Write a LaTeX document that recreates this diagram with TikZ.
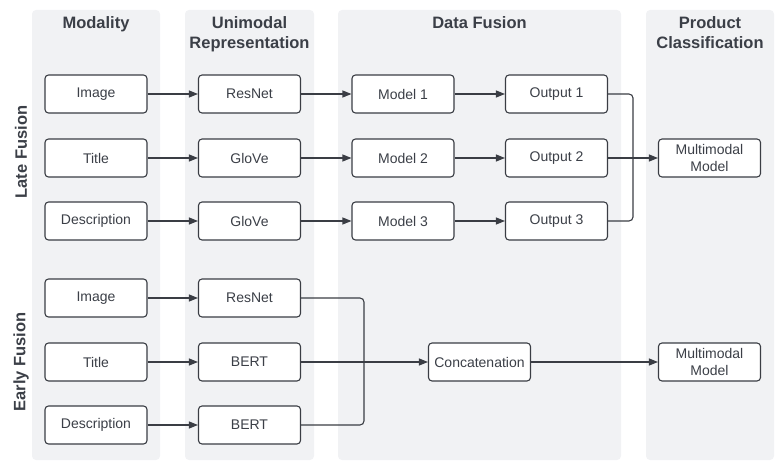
\documentclass[tikz,border=0pt]{standalone}
\usepackage{fontspec}
\setmainfont{Liberation Sans}
\usetikzlibrary{arrows.meta}
\definecolor{txt}{HTML}{3B3F47}
\definecolor{lane}{HTML}{F1F2F4}
\definecolor{ln}{HTML}{3A3D44}
\tikzset{
  lanebox/.style={fill=lane, draw=none, rounded corners=4pt},
  hdr/.style={font=\fontsize{16.5}{20}\selectfont\bfseries, text=txt, align=center, anchor=north},
  box/.style={draw=ln, line width=1.1pt, rounded corners=3.5pt, fill=white, minimum width=102pt, minimum height=38pt, inner sep=0pt, font=\fontsize{14}{16.5}\selectfont, text=txt, align=center},
  conn/.style={draw=ln, line width=1.1pt, -{Triangle[length=9pt,width=7pt]}},
  merge/.style={draw=ln, line width=1.1pt, rounded corners=4pt},
  side/.style={font=\fontsize{16.5}{20}\selectfont\bfseries, text=txt, rotate=90}
}
\begin{document}
\begin{tikzpicture}[x=1pt,y=-1pt]
\useasboundingbox (0,0) rectangle (784,462);
% lanes
\fill[lanebox] (32,10) rectangle (160,460);
\fill[lanebox] (185,10) rectangle (314,460);
\fill[lanebox] (338,10) rectangle (621,460);
\fill[lanebox] (646,10) rectangle (774,460);
% headers
\node[hdr] (h1) at (96,13.5) {Modality};
\node[hdr] (h2) at (249.5,13.5) {Unimodal\\Representation};
\node[hdr] (h3) at (479.5,13.5) {Data Fusion};
\node[hdr] (h4) at (710,13.5) {Product\\Classification};
% side labels
\node[side] (lf) at (21,152) {Late Fusion};
\node[side] (ef) at (21,362) {Early Fusion};
% late fusion
\node[box] (li) at (96,94) {Image};
\node[box] (lt) at (96,158) {Title};
\node[box] (ld) at (96,221) {Description};
\node[box] (lr) at (249.5,94) {ResNet};
\node[box] (lg1) at (249.5,158) {GloVe};
\node[box] (lg2) at (249.5,221) {GloVe};
\node[box] (m1) at (403,94) {Model 1};
\node[box] (m2) at (403,158) {Model 2};
\node[box] (m3) at (403,221) {Model 3};
\node[box] (o1) at (556.5,94) {Output 1};
\node[box] (o2) at (556.5,158) {Output 2};
\node[box] (o3) at (556.5,221) {Output 3};
\node[box] (mm1) at (709.5,158) {Multimodal\\Model};
\draw[conn] (li) -- (lr);
\draw[conn] (lt) -- (lg1);
\draw[conn] (ld) -- (lg2);
\draw[conn] (lr) -- (m1);
\draw[conn] (lg1) -- (m2);
\draw[conn] (lg2) -- (m3);
\draw[conn] (m1) -- (o1);
\draw[conn] (m2) -- (o2);
\draw[conn] (m3) -- (o3);
\coordinate (lm) at (633,158);
\draw[merge] (o1.east) -| (lm) |- (o3.east);
\draw[conn] (o2.east) -- (mm1.west);
% early fusion
\node[box] (ei) at (96,298) {Image};
\node[box] (et) at (96,362) {Title};
\node[box] (ed) at (96,425) {Description};
\node[box] (er) at (249.5,298) {ResNet};
\node[box] (eb1) at (249.5,362) {BERT};
\node[box] (eb2) at (249.5,425) {BERT};
\node[box] (cc) at (479.5,362) {Concatenation};
\node[box] (mm2) at (709.5,362) {Multimodal\\Model};
\draw[conn] (ei) -- (er);
\draw[conn] (et) -- (eb1);
\draw[conn] (ed) -- (eb2);
\coordinate (em) at (364,362);
\draw[merge] (er.east) -| (em) |- (eb2.east);
\draw[conn] (eb1.east) -- (cc.west);
\draw[conn] (cc) -- (mm2);
\end{tikzpicture}
\end{document}
